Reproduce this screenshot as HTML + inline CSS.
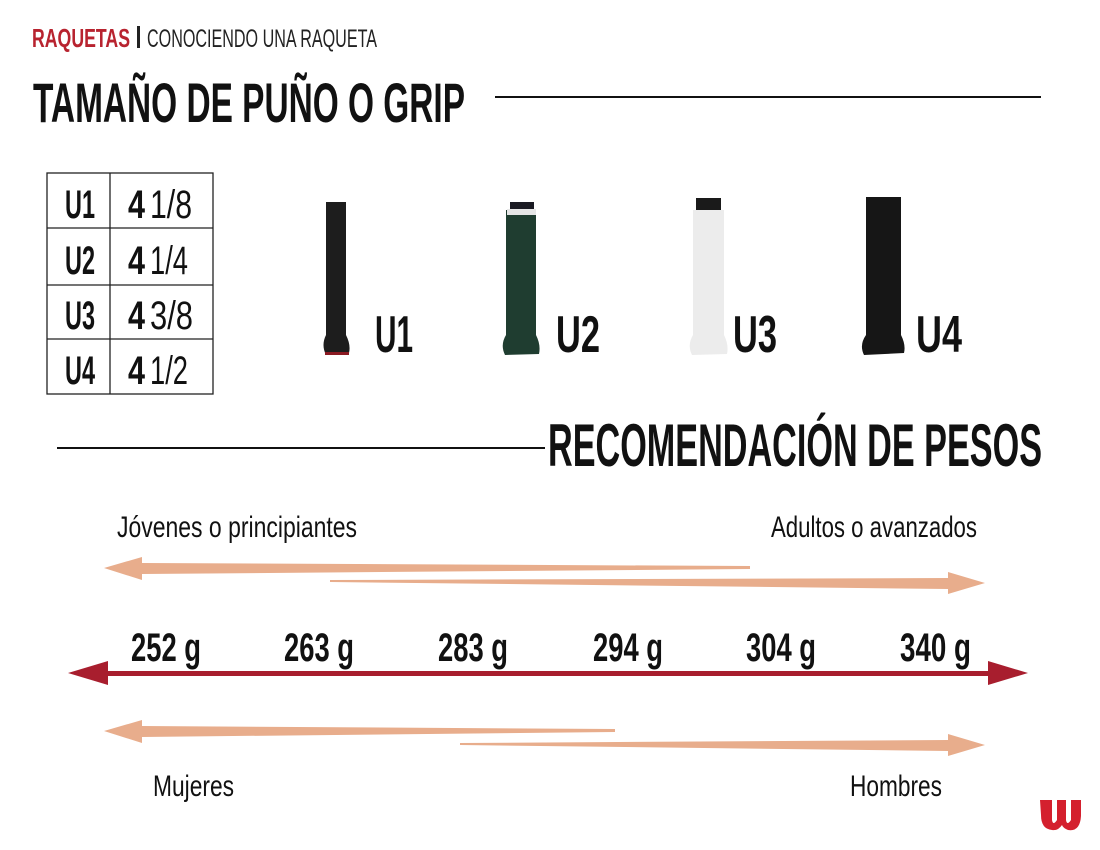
<!DOCTYPE html>
<html><head><meta charset="utf-8"><style>
html,body{margin:0;padding:0;background:#fff;}
svg{display:block;}
text{font-family:"Liberation Sans",sans-serif;}
</style></head><body>
<svg width="1100" height="850" viewBox="0 0 1100 850" xmlns="http://www.w3.org/2000/svg">
<text x="32" y="47" font-size="26" font-weight="bold" fill="#b8232f" textLength="98" lengthAdjust="spacingAndGlyphs">RAQUETAS</text>
<rect x="137" y="26" width="3" height="22" fill="#222"/>
<text x="147" y="47" font-size="25" fill="#222" textLength="230" lengthAdjust="spacingAndGlyphs">CONOCIENDO UNA RAQUETA</text>
<text x="33" y="122" font-size="56" font-weight="bold" fill="#111" textLength="432" lengthAdjust="spacingAndGlyphs">TAMAÑO DE PUÑO O GRIP</text>
<rect x="495" y="96" width="546" height="2" fill="#111"/>
<g stroke="#222" stroke-width="1.3" fill="none">
<rect x="47" y="173" width="166" height="221"/>
<line x1="47" y1="228" x2="213" y2="228"/>
<line x1="47" y1="285" x2="213" y2="285"/>
<line x1="47" y1="339" x2="213" y2="339"/>
<line x1="110" y1="173" x2="110" y2="394"/>
</g>
<g font-size="40" fill="#111">
<text x="65" y="218" font-weight="bold" textLength="30" lengthAdjust="spacingAndGlyphs">U1</text>
<text x="65" y="274" font-weight="bold" textLength="30" lengthAdjust="spacingAndGlyphs">U2</text>
<text x="65" y="329" font-weight="bold" textLength="30" lengthAdjust="spacingAndGlyphs">U3</text>
<text x="65" y="384" font-weight="bold" textLength="30" lengthAdjust="spacingAndGlyphs">U4</text>
<text x="128" y="218" font-weight="bold" textLength="17" lengthAdjust="spacingAndGlyphs">4</text>
<text x="128" y="274" font-weight="bold" textLength="17" lengthAdjust="spacingAndGlyphs">4</text>
<text x="128" y="329" font-weight="bold" textLength="17" lengthAdjust="spacingAndGlyphs">4</text>
<text x="128" y="384" font-weight="bold" textLength="17" lengthAdjust="spacingAndGlyphs">4</text>
<text x="150" y="218" textLength="42" lengthAdjust="spacingAndGlyphs">1/8</text>
<text x="150" y="274" textLength="38" lengthAdjust="spacingAndGlyphs">1/4</text>
<text x="150" y="329" textLength="43" lengthAdjust="spacingAndGlyphs">3/8</text>
<text x="150" y="384" textLength="38" lengthAdjust="spacingAndGlyphs">1/2</text>
</g>
<!-- grips -->
<path d="M326 202 L346 202 L346 335 Q351 345 349 353 L326 355 Q321 345 326 335 Z" fill="#1d1d1d"/>
<rect x="325" y="352" width="24" height="3" fill="#8a1a22"/>
<path d="M506 210 L536 210 L536 335 Q541 345 539 354 L505 355 Q500 345 506 335 Z" fill="#1f3d30"/>
<rect x="510" y="202" width="24" height="8" fill="#1a1a22"/>
<rect x="507" y="209" width="29" height="6" fill="#e6e6e6"/>
<path d="M693 210 L724 210 L724 335 Q729 345 727 354 L692 355 Q687 345 693 335 Z" fill="#ececec"/>
<rect x="696" y="198" width="25" height="12" fill="#1a1a1a"/>
<path d="M866 197 L901 197 L901 335 Q906 345 904 353 L864 355 Q859 345 866 335 Z" fill="#161616"/>
<g font-size="52" font-weight="bold" fill="#111">
<text x="375" y="352" textLength="38" lengthAdjust="spacingAndGlyphs">U1</text>
<text x="556" y="352" textLength="44" lengthAdjust="spacingAndGlyphs">U2</text>
<text x="733" y="352" textLength="44" lengthAdjust="spacingAndGlyphs">U3</text>
<text x="916" y="352" textLength="46" lengthAdjust="spacingAndGlyphs">U4</text>
</g>
<rect x="57" y="447" width="488" height="2" fill="#111"/>
<text x="548" y="466" font-size="60" font-weight="bold" fill="#111" textLength="494" lengthAdjust="spacingAndGlyphs">RECOMENDACIÓN DE PESOS</text>
<g font-size="30" fill="#111">
<text x="117" y="537" textLength="240" lengthAdjust="spacingAndGlyphs">Jóvenes o principiantes</text>
<text x="771" y="537" textLength="206" lengthAdjust="spacingAndGlyphs">Adultos o avanzados</text>
<text x="153" y="796" textLength="81" lengthAdjust="spacingAndGlyphs">Mujeres</text>
<text x="850" y="796" textLength="92" lengthAdjust="spacingAndGlyphs">Hombres</text>
</g>
<g fill="#e8ad8c">
<path d="M104 568 L142 557 L142 563 L750 566 L750 569 L142 574 L142 580 Z"/>
<path d="M985 583 L948 572 L948 578 L330 580 L330 582 L948 589 L948 594 Z"/>
<path d="M104 731 L142 720 L142 726 L615 729 L615 732 L142 737 L142 743 Z"/>
<path d="M985 745 L948 734 L948 740 L460 743 L460 745 L948 751 L948 756 Z"/>
</g>
<g fill="#a81e2e">
<rect x="100" y="671" width="892" height="5"/>
<path d="M68 673 L108 661 L108 685 Z"/>
<path d="M1028 673 L988 661 L988 685 Z"/>
</g>
<g font-size="40" font-weight="bold" fill="#111">
<text x="131" y="661" textLength="70" lengthAdjust="spacingAndGlyphs">252 g</text>
<text x="284" y="661" textLength="70" lengthAdjust="spacingAndGlyphs">263 g</text>
<text x="438" y="661" textLength="70" lengthAdjust="spacingAndGlyphs">283 g</text>
<text x="593" y="661" textLength="70" lengthAdjust="spacingAndGlyphs">294 g</text>
<text x="746" y="661" textLength="70" lengthAdjust="spacingAndGlyphs">304 g</text>
<text x="900" y="661" textLength="71" lengthAdjust="spacingAndGlyphs">340 g</text>
</g>
<path d="M1040 800 L1052 800 L1052 820 Q1053 826 1057 820 L1057 800 L1066 800 L1066 820 Q1067 826 1071 820 L1071 800 L1081 800 L1081 816 Q1080 832 1068 830 Q1063 828 1062 825 Q1058 831 1052 830 Q1041 829 1041 815 Z" fill="#d4202e"/>
</svg>
</body></html>
